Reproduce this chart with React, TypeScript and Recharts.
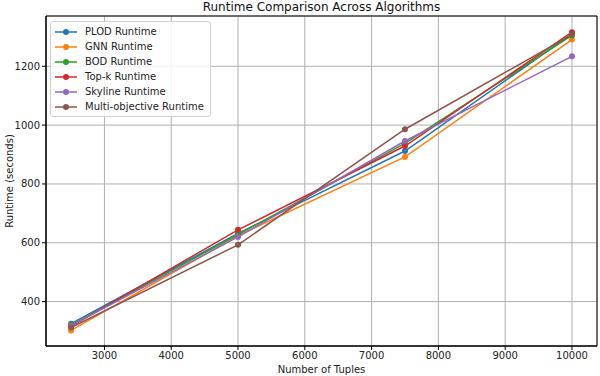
import { LineChart, Line, XAxis, YAxis, CartesianGrid, ReferenceArea } from 'recharts';

const tuples = [2500, 5000, 7500, 10000];
const plodRuntime = [325, 632, 912, 1310];
const gnnRuntime = [302, 624, 892, 1291];
const bodRuntime = [320, 628, 938, 1305];
const topkRuntime = [316, 644, 929, 1316];
const skylineRuntime = [318, 620, 946, 1234];
const multiRuntime = [312, 593, 986, 1308];

const xTicks = [3000, 4000, 5000, 6000, 7000, 8000, 9000, 10000];
const yTicks = [400, 600, 800, 1000, 1200];

const series = [
  { key: 'plod', name: 'PLOD Runtime', values: plodRuntime, color: '#1f77b4' },
  { key: 'gnn', name: 'GNN Runtime', values: gnnRuntime, color: '#ff7f0e' },
  { key: 'bod', name: 'BOD Runtime', values: bodRuntime, color: '#2ca02c' },
  { key: 'topk', name: 'Top-k Runtime', values: topkRuntime, color: '#d62728' },
  { key: 'skyline', name: 'Skyline Runtime', values: skylineRuntime, color: '#9467bd' },
  { key: 'multi', name: 'Multi-objective Runtime', values: multiRuntime, color: '#8c564b' },
];

const data = tuples.map((t, i) => {
  const row: Record<string, number> = { tuples: t };
  series.forEach(s => { row[s.key] = s.values[i]; });
  return row;
});

const font = 'DejaVu Sans, sans-serif';

function LegendBox() {
  return (
    <div style={{ position: 'absolute', left: 50, top: 21, zIndex: 2, background: 'rgba(255,255,255,0.85)', border: '1px solid #d0d0d0', borderRadius: 3, padding: '2px 6px 2px 4px', fontFamily: font, fontSize: 10, color: '#222' }}>
      {series.map(s => (
        <div key={s.key} style={{ display: 'flex', alignItems: 'center', height: 15 }}>
          <svg width={22} height={10} style={{ marginRight: 8 }}>
            <line x1={0} y1={5} x2={22} y2={5} stroke={s.color} strokeWidth={1.5} />
            <circle cx={11} cy={5} r={3} fill={s.color} />
          </svg>
          <span>{s.name}</span>
        </div>
      ))}
    </div>
  );
}

export default function App() {
  return (
    <div style={{ position: 'absolute', left: 0, top: 0, width: 600, height: 376, background: '#fff', fontFamily: font, overflow: 'hidden' }}>
      <div style={{ position: 'absolute', top: 0, left: 46, width: 551, textAlign: 'center', fontSize: 12, color: '#111' }}>
        Runtime Comparison Across Algorithms
      </div>
      <div style={{ position: 'absolute', top: 364, left: 46, width: 551, textAlign: 'center', fontSize: 10, color: '#222' }}>
        Number of Tuples
      </div>
      <div style={{ position: 'absolute', top: 181, left: 9, width: 0, height: 0 }}>
        <div style={{ position: 'absolute', transform: 'translate(-50%, -50%) rotate(-90deg)', whiteSpace: 'nowrap', fontSize: 10, color: '#222' }}>
          Runtime (seconds)
        </div>
      </div>
      <LineChart width={600} height={376} data={data} margin={{ top: 16, right: 3, left: 0, bottom: 0 }}>
        <CartesianGrid stroke="#b0b0b0" strokeWidth={1} />
        <XAxis
          dataKey="tuples"
          type="number"
          domain={[2125, 10375]}
          ticks={xTicks}
          allowDataOverflow
          height={30}
          tickSize={4}
          tickLine={{ stroke: '#000' }}
          axisLine={{ stroke: '#000' }}
          tick={{ fontSize: 10, fill: '#222', fontFamily: font }}
        />
        <YAxis
          type="number"
          domain={[249, 1371]}
          ticks={yTicks}
          allowDataOverflow
          width={46}
          tickSize={4}
          tickLine={{ stroke: '#000' }}
          axisLine={{ stroke: '#000' }}
          tick={{ fontSize: 10, fill: '#222', fontFamily: font }}
        />
        <ReferenceArea x1={2125} x2={10375} y1={249} y2={1371} fill="none" stroke="#000" strokeWidth={1} ifOverflow="visible" />
        {series.map(s => (
          <Line
            key={s.key}
            dataKey={s.key}
            name={s.name}
            stroke={s.color}
            strokeWidth={1.5}
            dot={{ r: 3, fill: s.color, stroke: s.color, strokeWidth: 0 }}
            activeDot={false}
            isAnimationActive={false}
          />
        ))}
      </LineChart>
      <LegendBox />
    </div>
  );
}
